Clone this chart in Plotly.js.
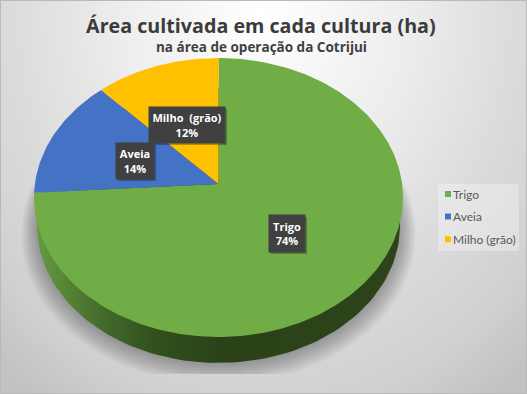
<!DOCTYPE html>
<html><head><meta charset="utf-8">
<script src="https://cdn.plot.ly/plotly-3.0.1.min.js"></script>
<style>
html,body{margin:0;padding:0;width:527px;height:394px;overflow:hidden}
#bg{position:absolute;left:0;top:0;width:527px;height:394px;box-sizing:border-box;border:1px solid #b9b9b9;
background:radial-gradient(ellipse 400px 470px at 50% 12px,#ffffff 0%,#ececec 38%,#dcdcdc 62%,#d0d0d0 85%,#c2c2c2 100%);background-color:#c2c2c2}
#chart{position:absolute;left:0;top:0;width:527px;height:394px}
</style></head><body><div id="bg"></div><div id="chart"></div>
<script>
const categories = ["Trigo", "Aveia", "Milho (grão)"];
const values = [74, 14, 12];
const colors = ["#70ad47", "#4472c4", "#ffc000"];
const labelBoxes = [[287, 233.5, 36, 37], [135, 161, 38, 36], [187, 125, 76, 36]];

const total = values.reduce((a, b) => a + b, 0);
const cx = 218.5, k = 0.0968, A = 183.6, B = 138.2;
function rim(deg, y0, s) {
  const t = deg * Math.PI / 180, u = Math.sin(t), v = -Math.cos(t), w = 1 - k * v;
  return [cx + s * A * u / w, y0 + s * B * v / w];
}
const base = {type: "scatter", mode: "lines", line: {width: 0}, fill: "toself", hoverinfo: "skip", showlegend: false};
function ring(y0, s, clip) {
  const xs = [], ys = [];
  for (let d = 0; d <= 360; d += 2) {
    const p = rim(d, y0, s);
    xs.push(p[0]); ys.push(clip ? Math.min(p[1], clip) : p[1]);
  }
  return {x: xs, y: ys};
}
const traces = [];
const layers = 12;
for (let i = 0; i < layers; i++) {
  const f = i / (layers - 1);
  const s = 1.07 - f * 0.085, bottom = 384 - f * 20;
  const r = ring(bottom - 153 * s, s, 374);
  traces.push(Object.assign({}, base, r, {fillcolor: "rgba(0,0,0,0.026)"}));
}
const side = ring(212.4, 0.984);
traces.push(Object.assign({}, base, side, {
  fillcolor: "#2c4219",
  fillgradient: {type: "horizontal", colorscale: [[0, "#659a42"], [0.1, "#527f34"], [0.2, "#416629"], [0.33, "#30501c"], [0.5, "#2b4219"], [1, "#2d441a"]]}
}));
let start = 0;
values.forEach((val, i) => {
  const end = start + val / total * 360, xs = [cx], ys = [184];
  for (let d = start; d < end; d += 1) { const p = rim(d, 184, 1); xs.push(p[0]); ys.push(p[1]); }
  const p = rim(end, 184, 1); xs.push(p[0], cx); ys.push(p[1], 184);
  traces.push(Object.assign({}, base, {x: xs, y: ys, fillcolor: colors[i], name: categories[i]}));
  start = end;
});
categories.forEach((c, i) => traces.push({
  type: "scatter", mode: "markers", x: [null], y: [null], name: c, legendgroup: c, showlegend: true,
  marker: {symbol: "square", size: 6, color: colors[i]}, hoverinfo: "skip"
}));

const annotations = categories.map((c, i) => {
  const b = labelBoxes[i];
  return {
    x: b[0], y: b[1], xref: "x", yref: "y", showarrow: false, xanchor: "center", yanchor: "middle",
    text: c.replace(" ", "  ") + "<br>" + values[i] + "%", width: b[2], height: b[3],
    bgcolor: "#404040", borderpad: 0, align: "center",
    font: {family: "Open Sans, sans-serif", size: 11, color: "#ffffff", weight: 700}
  };
});
annotations.push({
  x: 261, y: 47, xref: "x", yref: "y", showarrow: false, xanchor: "center", yanchor: "middle",
  text: "na área de operação da Cotrijui",
  font: {family: "Open Sans, sans-serif", size: 13.5, color: "#404040", weight: 700}
});
const shapes = labelBoxes.map(b => ({
  type: "rect", xref: "x", yref: "y", layer: "above", line: {width: 0}, fillcolor: "rgba(0,0,0,0.28)",
  x0: b[0] - b[2] / 2 + 2, x1: b[0] + b[2] / 2 + 2, y0: b[1] - b[3] / 2 + 2, y1: b[1] + b[3] / 2 + 2
}));
shapes.unshift({type: "rect", xref: "x", yref: "y", layer: "below", line: {width: 0},
  fillcolor: "rgba(255,255,255,0.3)", x0: 438, x1: 519, y0: 184, y1: 251});

const layout = {
  width: 527, height: 394, margin: {l: 0, r: 0, t: 0, b: 0},
  paper_bgcolor: "rgba(0,0,0,0)", plot_bgcolor: "rgba(0,0,0,0)",
  xaxis: {range: [0, 527], visible: false, fixedrange: true},
  yaxis: {range: [394, 0], visible: false, fixedrange: true},
  title: {
    text: "Área cultivada em cada cultura (ha)",
    x: 0.495, xanchor: "center", y: 0.935, yanchor: "middle",
    font: {family: "Open Sans, sans-serif", size: 19.7, color: "#3b3b3b", weight: 700}
  },
  legend: {
    x: 428 / 527, xanchor: "left", y: 1 - 179.5 / 394, yanchor: "top",
    bgcolor: "rgba(0,0,0,0)", borderwidth: 0, indentation: -15, tracegroupgap: 3.6,
    font: {family: "Lato, sans-serif", size: 12, color: "#595959"}
  },
  annotations, shapes
};
Plotly.newPlot("chart", traces, layout, {displayModeBar: false, staticPlot: true}).then(() => {
  document.querySelectorAll("#chart .legend .legendpoints").forEach(g => {
    g.setAttribute("transform", (g.getAttribute("transform") || "") + " translate(15,0)");
  });
});
</script></body></html>
